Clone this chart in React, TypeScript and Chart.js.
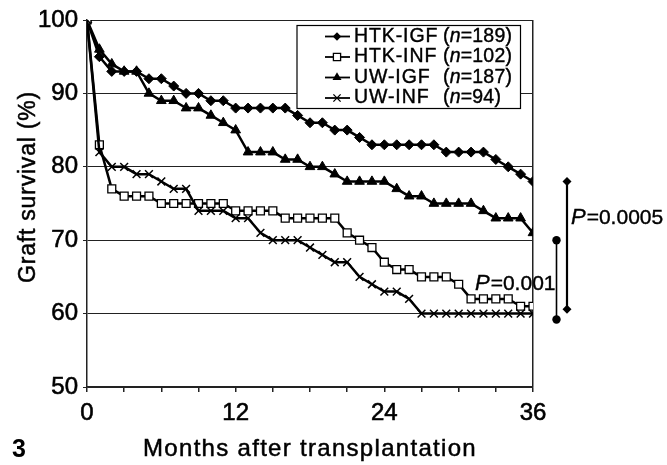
import React, { useEffect, useRef } from 'react';
import { Chart, registerables } from 'chart.js';

Chart.register(...registerables);

// ---- data ----
const MONTHS = [0, 1, 2, 3, 4, 5, 6, 7, 8, 9, 10, 11, 12, 13, 14, 15, 16, 17, 18, 19, 20, 21, 22, 23, 24, 25, 26, 27, 28, 29, 30, 31, 32, 33, 34, 35, 36];
const HTK_IGF = [100, 95, 93, 93, 93, 92, 92, 91, 90, 90, 89, 89, 88, 88, 88, 88, 88, 87, 86, 86, 85, 85, 84, 83, 83, 83, 83, 83, 83, 82, 82, 82, 82, 81, 80, 79, 78];
const HTK_INF = [100, 83, 77, 76, 76, 76, 75, 75, 75, 75, 75, 75, 74, 74, 74, 74, 73, 73, 73, 73, 73, 71, 70, 69, 67, 66, 66, 65, 65, 65, 64, 62, 62, 62, 62, 61, 61];
const UW_IGF = [100, 96, 94, 93, 93, 90, 89, 89, 88, 88, 87, 86, 85, 82, 82, 82, 81, 81, 80, 80, 79, 78, 78, 78, 78, 77, 76, 76, 75, 75, 75, 75, 74, 73, 73, 73, 71];
const UW_INF = [100, 82, 80, 80, 79, 79, 78, 77, 77, 74, 74, 74, 73, 73, 71, 70, 70, 70, 69, 68, 67, 67, 65, 64, 63, 63, 62, 60, 60, 60, 60, 60, 60, 60, 60, 60, 60];

const SERIES_LABELS = ['HTK-IGF', 'HTK-INF', 'UW-IGF', 'UW-INF'];
const SERIES_N = [189, 102, 187, 94];
const X_LABELED_TICKS = [0, 12, 24, 36];
const Y_MIN = 50;
const Y_MAX = 100;

// P-value brackets (survival % at the two ends) and texts
const P_SMALL_TEXT = '=0.001';
const P_SMALL_AT = 64;
const P_LARGE_TEXT = '=0.0005';
const P_LARGE_AT = 73;
const BRACKET_CIRCLE = [70, 59.2];
const BRACKET_DIAMOND = [78, 60.6];

const X_TITLE = 'Months after transplantation';
const Y_TITLE = 'Graft survival (%)';
const FIG_NUMBER = '3';

const FONT = '"Liberation Sans", Arial, Helvetica, sans-serif';

type MarkerKind = 'diamond' | 'square' | 'triangle' | 'cross' | 'circle';

function drawMarker(ctx: CanvasRenderingContext2D, kind: MarkerKind, x: number, y: number, r: number) {
  ctx.save();
  ctx.strokeStyle = '#000';
  ctx.fillStyle = '#000';
  ctx.lineWidth = 1.3;
  ctx.beginPath();
  if (kind === 'diamond') {
    ctx.moveTo(x, y - r); ctx.lineTo(x + r, y); ctx.lineTo(x, y + r); ctx.lineTo(x - r, y); ctx.closePath();
    ctx.fill();
  } else if (kind === 'square') {
    ctx.fillStyle = '#fff';
    ctx.rect(x - r, y - r, 2 * r, 2 * r);
    ctx.fill(); ctx.stroke();
  } else if (kind === 'triangle') {
    ctx.moveTo(x, y - r);
    ctx.lineTo(x + r * 0.866, y + r * 0.5);
    ctx.lineTo(x - r * 0.866, y + r * 0.5);
    ctx.closePath();
    ctx.fill();
  } else if (kind === 'cross') {
    ctx.moveTo(x - r, y - r); ctx.lineTo(x + r, y + r);
    ctx.moveTo(x + r, y - r); ctx.lineTo(x - r, y + r);
    ctx.stroke();
  } else {
    ctx.arc(x, y, r, 0, Math.PI * 2);
    ctx.fill();
  }
  ctx.restore();
}

function heavyText(ctx: CanvasRenderingContext2D, t: string, x: number, y: number, w = 0.5) {
  ctx.fillText(t, x, y);
  ctx.lineWidth = w;
  ctx.strokeText(t, x, y);
}

const LEGEND_MARKERS: MarkerKind[] = ['diamond', 'square', 'triangle', 'cross'];
const LEGEND_MARKER_SIZE = [4.2, 3.6, 5.2, 3.6];

const decorPlugin = {
  id: 'decor',
  afterDraw(chart: any) {
    const ctx: CanvasRenderingContext2D = chart.ctx;
    const area = chart.chartArea;
    const ys = chart.scales.y;
    ctx.save();
    ctx.fillStyle = '#000';
    ctx.strokeStyle = '#000';

    // axis titles
    ctx.save();
    (ctx as any).letterSpacing = '0.8px';
    ctx.font = `23px ${FONT}`;
    ctx.textAlign = 'center';
    ctx.textBaseline = 'middle';
    ctx.translate(29, 187);
    ctx.rotate(-Math.PI / 2);
    heavyText(ctx, Y_TITLE, 0, 0);
    ctx.restore();

    ctx.save();
    (ctx as any).letterSpacing = '1.3px';
    ctx.font = `24px ${FONT}`;
    ctx.textAlign = 'center';
    ctx.textBaseline = 'middle';
    heavyText(ctx, X_TITLE, (area.left + area.right) / 2, 449);
    ctx.restore();

    // figure number
    ctx.font = `bold 25px ${FONT}`;
    ctx.textAlign = 'left';
    ctx.textBaseline = 'middle';
    ctx.fillText(FIG_NUMBER, 12, 450);

    // legend box
    const bx = area.left + 210;
    const bw = 223.5;
    const by = 25.5;
    const bh = 83;
    ctx.fillStyle = '#fff';
    ctx.fillRect(bx, by, bw, bh);
    ctx.lineWidth = 1.2;
    ctx.strokeRect(bx, by, bw, bh);
    ctx.fillStyle = '#000';
    SERIES_LABELS.forEach((label, i) => {
      const ry = by + 11 + i * 20.5;
      ctx.lineWidth = 1.8;
      ctx.beginPath();
      ctx.moveTo(bx + 28, ry);
      ctx.lineTo(bx + 53, ry);
      ctx.stroke();
      drawMarker(ctx, LEGEND_MARKERS[i], bx + 40, ry, LEGEND_MARKER_SIZE[i]);
      ctx.save();
      (ctx as any).letterSpacing = '0.9px';
      ctx.font = `19.5px ${FONT}`;
      ctx.textAlign = 'left';
      ctx.textBaseline = 'middle';
      heavyText(ctx, label, bx + 57, ry, 0.4);
      let tx = bx + 146;
      (ctx as any).letterSpacing = '0.2px';
      const parts: [string, boolean][] = [['(', false], ['n', true], [`=${SERIES_N[i]})`, false]];
      parts.forEach(([t, it]) => {
        ctx.font = `${it ? 'italic ' : ''}19.5px ${FONT}`;
        heavyText(ctx, t, tx, ry, 0.4);
        tx += ctx.measureText(t).width;
      });
      ctx.restore();
    });

    // P value texts
    const drawP = (x: number, y: number, rest: string) => {
      ctx.textAlign = 'left';
      ctx.textBaseline = 'middle';
      ctx.font = `italic 22px ${FONT}`;
      heavyText(ctx, 'P', x, y, 0.4);
      const w = ctx.measureText('P').width;
      ctx.font = `21px ${FONT}`;
      heavyText(ctx, rest, x + w + 1, y, 0.4);
    };
    drawP(area.right - 58, ys.getPixelForValue(P_SMALL_AT), P_SMALL_TEXT);
    drawP(area.right + 38, ys.getPixelForValue(P_LARGE_AT), P_LARGE_TEXT);

    // brackets
    const cx = area.right + 23.5;
    ctx.lineWidth = 1.6;
    ctx.beginPath();
    ctx.moveTo(cx, ys.getPixelForValue(BRACKET_CIRCLE[0]));
    ctx.lineTo(cx, ys.getPixelForValue(BRACKET_CIRCLE[1]));
    ctx.stroke();
    drawMarker(ctx, 'circle', cx, ys.getPixelForValue(BRACKET_CIRCLE[0]), 4.2);
    drawMarker(ctx, 'circle', cx, ys.getPixelForValue(BRACKET_CIRCLE[1]), 4.2);

    const dx = area.right + 34;
    ctx.lineWidth = 2.2;
    ctx.beginPath();
    ctx.moveTo(dx, ys.getPixelForValue(BRACKET_DIAMOND[0]));
    ctx.lineTo(dx, ys.getPixelForValue(BRACKET_DIAMOND[1]));
    ctx.stroke();
    drawMarker(ctx, 'diamond', dx, ys.getPixelForValue(BRACKET_DIAMOND[0]), 4.5);
    drawMarker(ctx, 'diamond', dx, ys.getPixelForValue(BRACKET_DIAMOND[1]), 4.5);

    ctx.restore();
  },
};

export default function App() {
  const canvasRef = useRef<HTMLCanvasElement | null>(null);

  useEffect(() => {
    const canvas = canvasRef.current;
    if (!canvas) return;
    const common = { borderColor: '#000', borderWidth: 2.5, tension: 0, pointBorderColor: '#000' };
    const chart = new Chart(canvas, {
      type: 'line',
      data: {
        labels: MONTHS,
        datasets: [
          { ...common, label: SERIES_LABELS[3], data: UW_INF, pointStyle: 'crossRot', pointRadius: 5.5, pointBorderWidth: 1.5, pointBackgroundColor: '#000' },
          { ...common, label: SERIES_LABELS[1], data: HTK_INF, pointStyle: 'rect', pointRadius: 5.6, pointBorderWidth: 1.3, pointBackgroundColor: '#fff' },
          { ...common, label: SERIES_LABELS[2], data: UW_IGF, pointStyle: 'triangle', pointRadius: 5.6, pointBorderWidth: 1, pointBackgroundColor: '#000' },
          { ...common, label: SERIES_LABELS[0], data: HTK_IGF, pointStyle: 'rectRot', pointRadius: 5, pointBorderWidth: 1, pointBackgroundColor: '#000' },
        ],
      },
      options: {
        animation: false,
        responsive: false,
        devicePixelRatio: 1,
        layout: { padding: { left: 0, right: 134, top: 20, bottom: 0 } },
        plugins: { legend: { display: false }, tooltip: { enabled: false } },
        scales: {
          x: {
            type: 'linear',
            min: 0,
            max: 36,
            afterFit: (s: any) => { s.height = 78; },
            ticks: {
              stepSize: 3,
              autoSkip: false,
              maxRotation: 0,
              color: '#000',
              padding: 7,
              textStrokeColor: '#000',
              textStrokeWidth: 0.6,
              font: { family: FONT, size: 24 },
              callback: (v: any) => (X_LABELED_TICKS.includes(Number(v)) ? String(v) : ''),
            },
            grid: {
              drawOnChartArea: true,
              color: (c: any) => (c.tick && c.tick.value === 36 ? '#222' : 'rgba(0,0,0,0)'),
              lineWidth: 1.5,
              tickColor: '#222',
              tickLength: 5,
            },
            border: { color: '#222', width: 1.5 },
          },
          y: {
            min: Y_MIN,
            max: Y_MAX,
            afterFit: (s: any) => { s.width = 87; },
            ticks: {
              stepSize: 10,
              color: '#000',
              padding: 5,
              textStrokeColor: '#000',
              textStrokeWidth: 0.6,
              font: { family: FONT, size: 24 },
            },
            grid: { color: '#222', lineWidth: 1, tickColor: '#222', tickLength: 4 },
            border: { color: '#222', width: 1.5 },
          },
        },
      },
      plugins: [decorPlugin],
    } as any);
    return () => chart.destroy();
  }, []);

  return (
    <div style={{ position: 'absolute', left: 0, top: 0, width: 667, height: 465, background: '#fff' }}>
      <canvas ref={canvasRef} width={667} height={465} style={{ display: 'block', width: 667, height: 465 }} />
    </div>
  );
}
